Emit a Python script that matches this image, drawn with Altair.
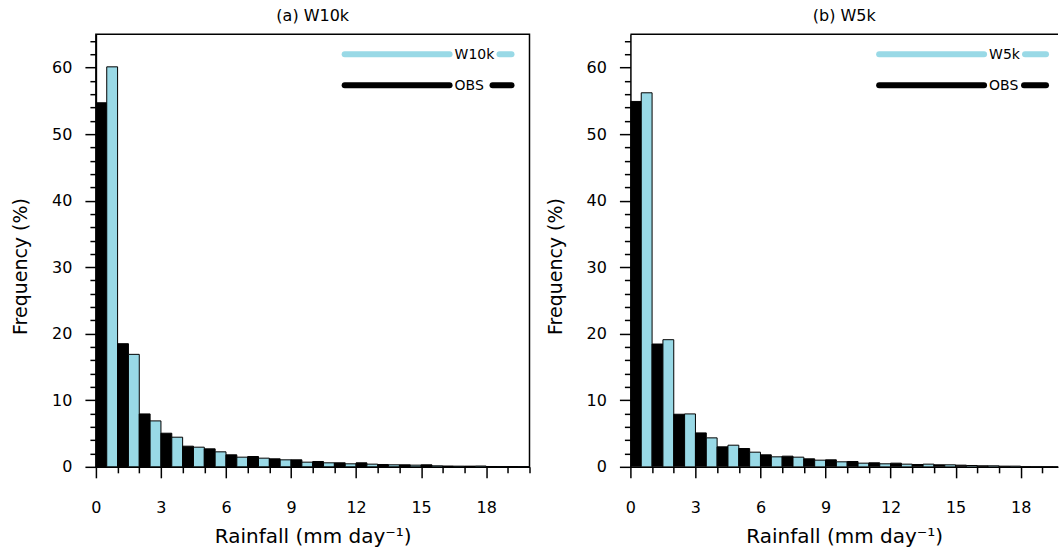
import altair as alt
import pandas as pd

# Rainfall bins (mm/day), one bar pair per 1-mm bin
bin_start = list(range(20))

# Frequency (%) per bin
obs_a = [54.7, 18.5, 7.95, 5.05, 3.1, 2.7, 1.8, 1.55, 1.2, 1.05,
         0.8, 0.6, 0.6, 0.35, 0.3, 0.3, 0.12, 0.1, 0.05, 0.03]
w10k = [60.1, 16.9, 6.9, 4.45, 2.95, 2.25, 1.45, 1.3, 1.05, 0.7,
        0.6, 0.45, 0.4, 0.3, 0.25, 0.15, 0.1, 0.12, 0.05, 0.03]
obs_b = [54.9, 18.45, 7.9, 5.1, 3.0, 2.75, 1.8, 1.6, 1.2, 1.05,
         0.8, 0.6, 0.55, 0.35, 0.3, 0.25, 0.15, 0.1, 0.05, 0.03]
w5k = [56.2, 19.1, 7.95, 4.35, 3.25, 2.2, 1.5, 1.45, 1.0, 0.75,
       0.55, 0.45, 0.4, 0.4, 0.3, 0.2, 0.15, 0.1, 0.05, 0.03]

BLUE = "#99D9E6"
FONT = "DejaVu Sans"
PLOT_H = 433
PX_PER_MM = 434 / 20


def panel(title, model_name, obs, model, width, short_starts, framed):
    rows = []
    for i, b in enumerate(bin_start):
        rows.append({"bin": b, "series": "OBS", "freq": obs[i], "color": "black"})
        rows.append({"bin": b, "series": model_name, "freq": model[i], "color": BLUE})
    df = pd.DataFrame(rows)
    xmax = width / PX_PER_MM
    xticks = [v for v in range(0, 21) if v <= xmax + 1e-9]

    bars = alt.Chart(df).transform_calculate(
        x0="datum.bin + (datum.series === 'OBS' ? 0 : 0.5)",
        x1="datum.bin + (datum.series === 'OBS' ? 0.5 : 1)",
    ).mark_bar(stroke="black", strokeWidth=1, clip=True).encode(
        x=alt.X("x0:Q",
                scale=alt.Scale(domain=[0, xmax], nice=False, zero=False),
                axis=alt.Axis(
                    values=xticks,
                    title="Rainfall (mm day⁻¹)",
                    titleFontSize=20,
                    labelExpr="datum.value % 3 === 0 ? datum.label : ''",
                    tickSize={"condition": {"test": "datum.value % 3 === 0", "value": 11}, "value": 6},
                    labelPadding=22, titlePadding=11,
                )),
        x2="x1:Q",
        y=alt.Y("freq:Q",
                scale=alt.Scale(domain=[0, 65], nice=False),
                axis=alt.Axis(
                    values=list(range(0, 66, 2)),
                    title="Frequency (%)",
                    titleY=232,
                    labelExpr="datum.value % 10 === 0 ? datum.label : ''",
                    tickSize={"condition": {"test": "datum.value % 10 === 0", "value": 11}, "value": 6},
                    labelPadding=13, titlePadding=21,
                )),
        y2=alt.Y2(datum=0),
        fill=alt.Fill("color:N", scale=None, legend=None),
    )

    one = pd.DataFrame({"k": [0]})
    layers = [bars]
    # in-plot legend: long line, label, short line
    for (label, color, ypx, short_x) in [(model_name, BLUE, 20, short_starts[0]),
                                          ("OBS", "black", 51, short_starts[1])]:
        layers.append(alt.Chart(one).mark_rule(color=color, strokeWidth=6, strokeCap="round").encode(
            x=alt.value(249), x2=alt.value(354), y=alt.value(ypx)))
        layers.append(alt.Chart(one).mark_rule(color=color, strokeWidth=6, strokeCap="round").encode(
            x=alt.value(short_x + 3), x2=alt.value(416), y=alt.value(ypx)))
        layers.append(alt.Chart(one).mark_text(align="left", baseline="middle", font=FONT,
                                                fontSize=14, color="black").encode(
            x=alt.value(359), y=alt.value(ypx + 1), text=alt.value(label)))
    if framed:
        view = alt.ViewBackground(stroke="black", strokeWidth=1.5)
    else:
        view = alt.ViewBackground(strokeOpacity=0)
        layers.append(alt.Chart(one).mark_rule(color="black", strokeWidth=1.5).encode(
            x=alt.value(0), x2=alt.value(width), y=alt.value(0)))

    return alt.layer(*layers).properties(
        width=width, height=PLOT_H, view=view,
        title=alt.TitleParams(title, font=FONT, fontSize=16, fontWeight="normal",
                              anchor="middle", frame="group", offset=9, color="black"),
    )


left = panel("(a) W10k", "W10k", obs_a, w10k, 434, (401, 394), True)
right = panel("(b) W5k", "W5k", obs_b, w5k, 428, (392, 391), False)

chart = alt.hconcat(left, right, spacing=14).properties(
    padding={"left": 10, "top": 6, "right": 0, "bottom": 0},
    background="white",
).configure_axis(
    domainColor="black", domainWidth=1.5, tickColor="black", tickWidth=1.5,
    grid=False, labelFont=FONT, labelFontSize=16, labelColor="black",
    labelOverlap=False, labelFlush=False,
    titleFont=FONT, titleFontSize=19, titleFontWeight="normal", titleColor="black",
)

chart.save("out.html", embed_options={"renderer": "svg", "actions": False})
